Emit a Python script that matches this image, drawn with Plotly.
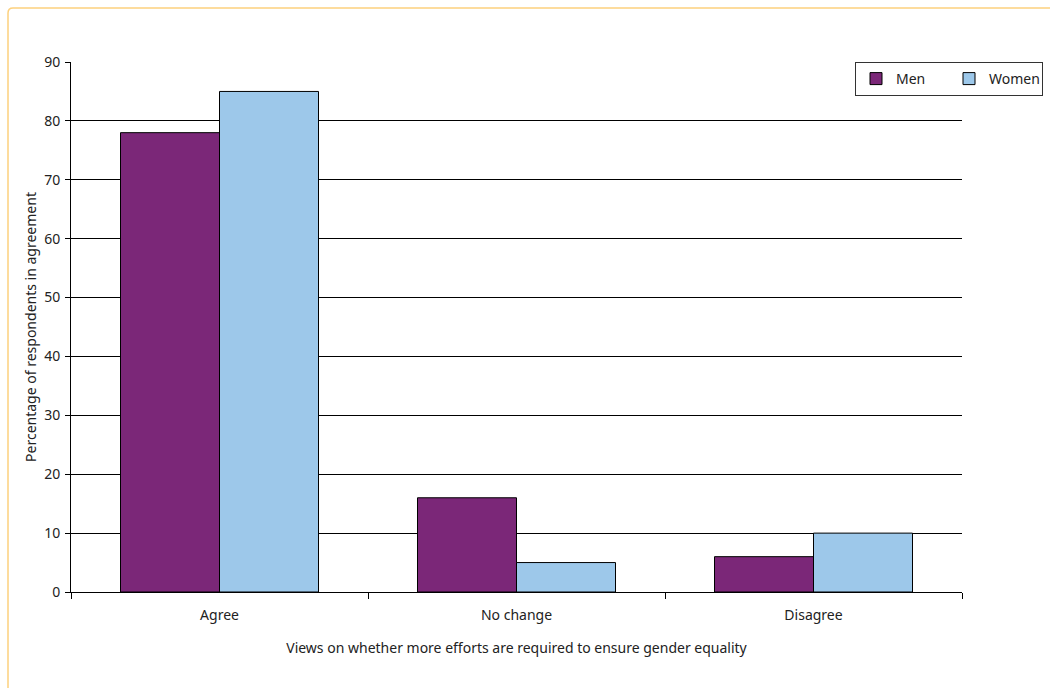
import plotly.graph_objects as go

categories = ["Agree", "No change", "Disagree"]
men = [78, 16, 6]
women = [85, 5, 10]
y_ticks = [0, 10, 20, 30, 40, 50, 60, 70, 80, 90]

L, R, T, B = 71, 88, 62, 96
W, H = 1050, 688
pw, ph = W - L - R, H - T - B

def px_x(p):
    return (p - L) / pw

def px_y(p):
    return (H - B - p) / ph

fig = go.Figure()
fig.add_trace(go.Bar(name="Men", x=categories, y=men, marker=dict(color="#7B2778", line=dict(color="black", width=1))))
fig.add_trace(go.Bar(name="Women", x=categories, y=women, marker=dict(color="#9DC8EA", line=dict(color="black", width=1))))

font = "Noto Sans, Open Sans, sans-serif"
fig.update_layout(
    width=W, height=H,
    margin=dict(l=L, r=R, t=T, b=B, autoexpand=False),
    paper_bgcolor="white", plot_bgcolor="white",
    barmode="group", bargap=1/3, bargroupgap=0,
    font=dict(family=font, size=14, color="#222"),
    showlegend=True,
    legend=dict(orientation="h", x=px_x(1043), y=1.0, xanchor="right", yanchor="top",
                bordercolor="#333", borderwidth=1, bgcolor="white",
                font=dict(size=14), itemwidth=30, tracegroupgap=0,
                entrywidthmode="pixels", entrywidth=48),
    xaxis=dict(showline=True, linecolor="black", linewidth=1, ticks="outside", ticklen=6,
               tickcolor="black", tickson="boundaries", showgrid=False, ticklabelstandoff=10,
               title=dict(text="Views on whether more efforts are required to ensure gender equality", standoff=20, font=dict(size=14))),
    yaxis=dict(range=[0, 90], tickvals=y_ticks, showline=True, linecolor="black", linewidth=1,
               ticks="outside", ticklen=5, tickcolor="black", showgrid=True, gridcolor="black",
               gridwidth=1, zeroline=False, ticklabelstandoff=2,
               title=dict(text="Percentage of respondents in agreement", standoff=4, font=dict(size=14))),
    shapes=[
        dict(type="path", xref="paper", yref="paper",
             path=f"M {px_x(8)},{px_y(H+20)} L {px_x(8)},{px_y(13)} Q {px_x(8)},{px_y(8)} {px_x(13)},{px_y(8)} L {px_x(W+20)},{px_y(8)}",
             line=dict(color="#FDD17E", width=1.5)),
    ],
)
fig.write_html("out.html")
